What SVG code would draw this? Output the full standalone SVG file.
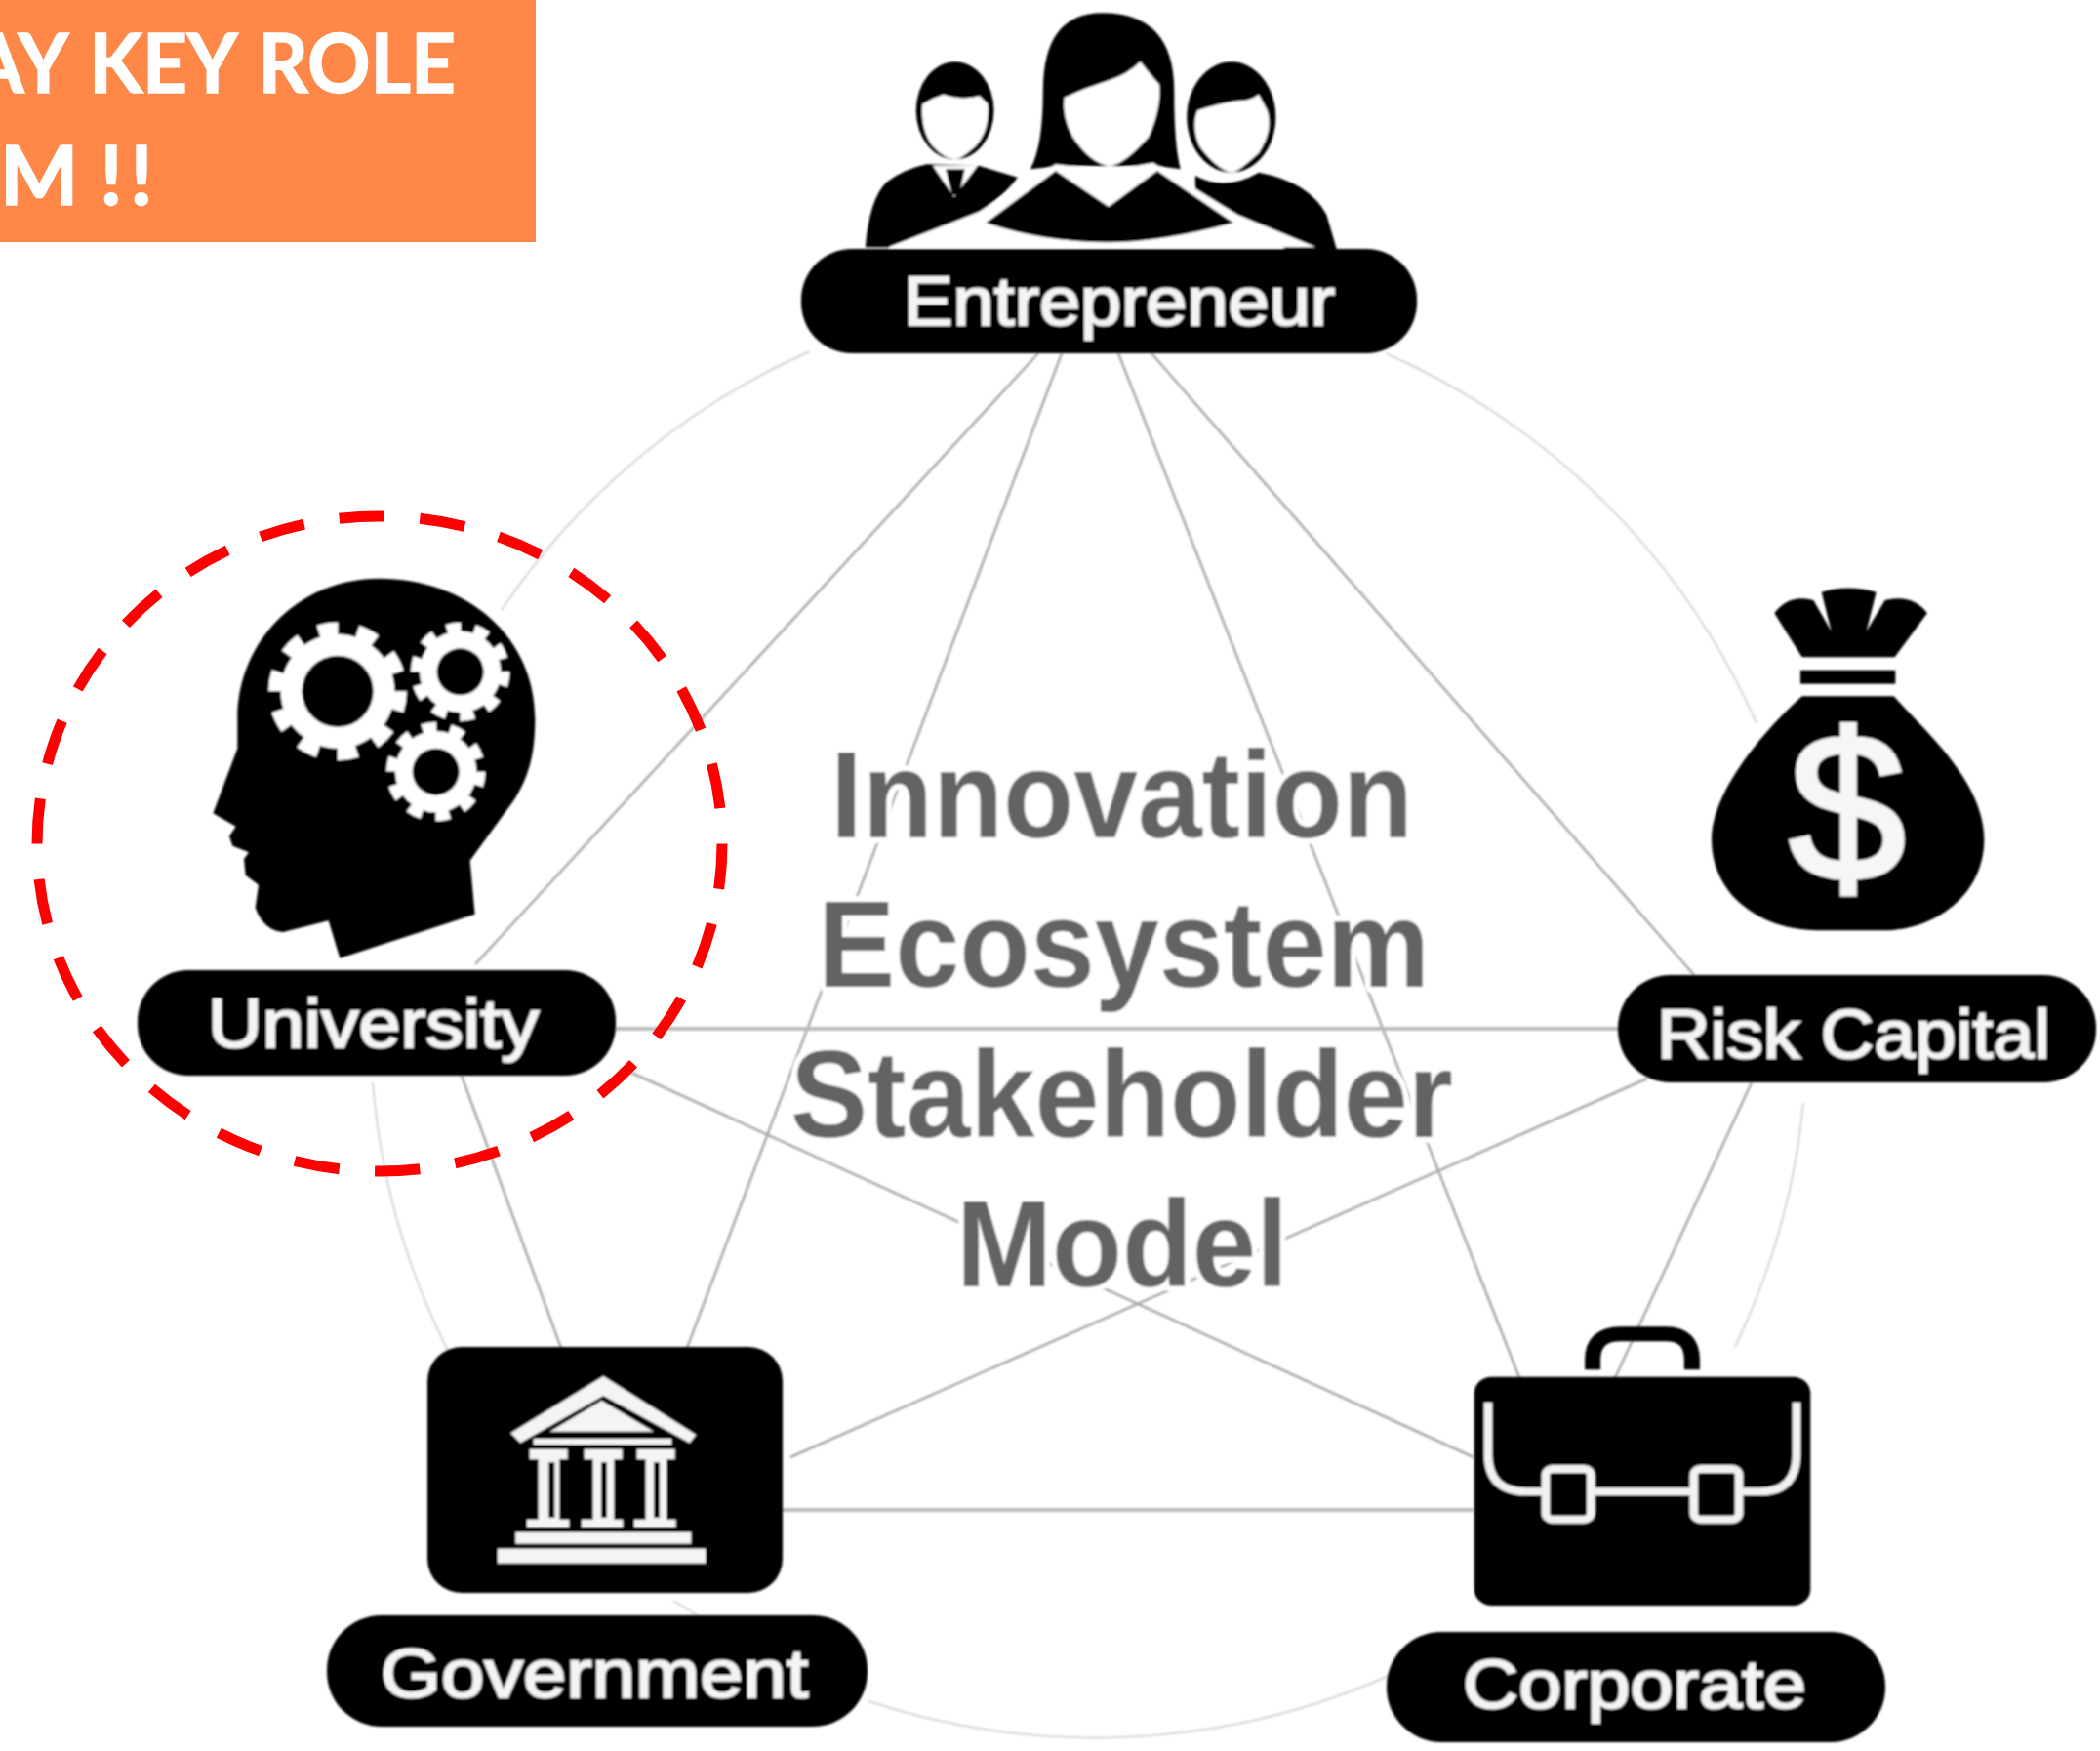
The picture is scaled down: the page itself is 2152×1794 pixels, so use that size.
<svg xmlns="http://www.w3.org/2000/svg" width="2152" height="1794" viewBox="0 0 2152 1794">
<style>
.line{fill:none;stroke:#a8a8a8;stroke-width:2.5}
.thick{fill:none;stroke:#bcbcbc;stroke-width:4}
.arc{fill:none;stroke:#d4d4d4;stroke-width:2}
.pill{fill:#000}
.label{font-family:"Liberation Sans",Arial,sans-serif;font-size:70px;fill:#f4f4f4;stroke:#f4f4f4;stroke-width:2}
.center{font-family:"Liberation Sans",Arial,sans-serif;font-weight:700;font-size:126px;fill:#636366;stroke:#fff;stroke-width:12;paint-order:stroke;stroke-linejoin:round}
.banner{font-family:Lato,"Liberation Sans",sans-serif;font-weight:700;font-size:85px;fill:#fff;stroke:#fff;stroke-width:1.5;word-spacing:5px}
.w{fill:#fff}.k{fill:#000}
.sw{fill:none;stroke:#f2f2f2}
</style>
<defs><filter id="soft" x="-5%" y="-5%" width="110%" height="110%"><feGaussianBlur stdDeviation="0.9"/></filter></defs>
<rect width="2152" height="1794" fill="#fff"/>
<g id="connectors" filter="url(#soft)">
<path class="arc" d="M830 360A741 741 0 0 0 514 625"/>
<path class="arc" d="M1420 362A741 741 0 0 1 1800 741"/>
<path class="arc" d="M1848 1130A741 741 0 0 1 1778 1380"/>
<path class="arc" d="M382 1109A741 741 0 0 0 460 1386"/>
<path class="arc" d="M690 1640L715 1655"/>
<path class="arc" d="M890 1743A741 741 0 0 0 1425 1716"/>
<path class="line" d="M1064 362L487 988"/>
<path class="line" d="M1088 362L703 1384"/>
<path class="line" d="M1146 362L1558 1414"/>
<path class="line" d="M1180 362L1736 999"/>
<path class="thick" d="M631 1054H1660"/>
<path class="line" d="M645 1098L1510 1493"/>
<path class="line" d="M1688 1105L810 1493"/>
<path class="line" d="M473 1102L576 1384"/>
<path class="line" d="M1795 1109L1654 1414"/>
<path class="thick" d="M800 1547H1510"/>
</g>
<g id="title" filter="url(#soft)">
<text class="center" x="851" y="858" textLength="597" lengthAdjust="spacingAndGlyphs">Innovation</text>
<text class="center" x="838" y="1011" textLength="627" lengthAdjust="spacingAndGlyphs">Ecosystem</text>
<text class="center" x="810" y="1165" textLength="679" lengthAdjust="spacingAndGlyphs">Stakeholder</text>
<text class="center" x="980" y="1318" textLength="340" lengthAdjust="spacingAndGlyphs">Model</text>
</g>
<g id="entrepreneur" filter="url(#soft)">
<g transform="translate(800 0) scale(.4336 .3333)">
<ellipse class="k" cx="412" cy="340" rx="92" ry="150"/>
<path class="w" d="M335 320Q360 300 385 290Q430 310 470 295L490 320Q495 400 460 450Q425 490 412 490Q390 490 360 450Q330 400 335 320Z"/>
<path class="k" d="M200 760Q210 610 250 560Q290 520 345 505L470 510L560 545Q530 600 460 660L255 760Z"/>
<path class="w" d="M360 510L410 605L465 510Z"/>
<path class="k" d="M390 520H435L422 600H405Z"/>
<ellipse class="k" cx="1065" cy="360" rx="105" ry="170"/>
<path class="w" d="M985 340Q1030 320 1080 310Q1110 310 1130 290L1150 340Q1165 400 1130 470Q1080 530 1065 530Q1030 520 990 450Q970 390 985 340Z"/>
<path class="k" d="M980 540Q1050 590 1130 530Q1250 560 1290 660L1315 770H1200L980 600Z"/>
<path class="k" d="M590 520Q620 450 620 280Q620 40 760 40Q930 40 930 280Q930 450 945 520L890 510H660Z"/>
<path class="w" d="M670 300Q720 270 770 250Q820 230 850 190Q880 240 895 260Q900 330 870 420Q810 510 775 510Q730 500 690 420Q665 360 670 300Z"/>
<path class="w" d="M255 760L470 650L650 505L720 515L775 525L880 500L1080 660L1265 760Z"/>
<path class="k" d="M485 685L650 525L775 635L890 525L1070 685Q900 745 775 745Q620 745 485 685Z"/>
</g>
<rect class="pill" x="821" y="255" width="631" height="107" rx="52"/>
<text class="label" x="926" y="333" textLength="442" lengthAdjust="spacingAndGlyphs">Entrepreneur</text>
</g>
<g id="university" filter="url(#soft)">
<g transform="translate(180 570) scale(.3333)">
<path class="k" d="M624 68C900 68 1105 250 1105 500C1105 610 1085 680 1040 750L905 935L920 1100L505 1235L470 1120L330 1155Q270 1150 245 1080L255 1010L215 980L210 930L225 910L175 890L165 860L185 830L115 790L190 590V500C190 260 380 68 624 68Z"/>
<circle cx="498" cy="415" r="185" fill="none" stroke="#fff" stroke-width="55" stroke-dasharray="58 58.2"/>
<circle class="w" cx="498" cy="415" r="175"/><circle class="k" cx="498" cy="415" r="110"/>
<circle cx="875" cy="355" r="133" fill="none" stroke="#fff" stroke-width="38" stroke-dasharray="42 41.6"/>
<circle class="w" cx="875" cy="355" r="125"/><circle class="k" cx="875" cy="355" r="72"/>
<circle cx="800" cy="662" r="133" fill="none" stroke="#fff" stroke-width="38" stroke-dasharray="42 41.6"/>
<circle class="w" cx="800" cy="662" r="125"/><circle class="k" cx="800" cy="662" r="72"/>
</g>
<rect class="pill" x="141" y="994" width="490" height="108" rx="52"/>
<text class="label" x="213" y="1073" textLength="339" lengthAdjust="spacingAndGlyphs">University</text>
</g>
<g id="risk-capital" filter="url(#soft)">
<g transform="translate(1730 580) scale(.3333)">
<path class="k" d="M350 280L265 145Q310 85 385 105L440 200L410 80Q490 55 578 80L548 200L605 105Q690 85 735 145L635 280Z"/>
<rect class="k" x="345" y="320" width="292" height="42"/>
<path class="k" d="M350 400H632C720 500 910 660 910 840C910 1010 760 1120 600 1120H400C220 1120 72 1010 72 840C72 680 260 480 350 400Z"/>
</g>
<text x="1893" y="902" text-anchor="middle" font-family="'Liberation Sans',Arial,sans-serif" font-size="216" fill="#f6f6f6" stroke="#f6f6f6" stroke-width="4">$</text>
<rect class="pill" x="1658" y="999" width="490" height="110" rx="54"/>
<text class="label" x="1698" y="1084" textLength="403" lengthAdjust="spacingAndGlyphs">Risk Capital</text>
</g>
<g id="government" filter="url(#soft)">
<rect class="pill" x="438" y="1380" width="364" height="252" rx="35"/>
<g transform="translate(320 1370) scale(.3333)" fill="#f4f4f4">
<path d="M610 295L895 120L1180 300L1160 325L895 180L640 325Z"/>
<path d="M730 290L890 195L1050 290Z"/>
<rect x="680" y="312" width="425" height="18"/>
<g id="columns">
<path fill-rule="evenodd" d="M668 345H785V375H760V560H790V585H660V560H695V375H668ZM727 385V555H745V385Z"/>
<path fill-rule="evenodd" d="M836 345H953V375H928V560H955V585H828V560H863V375H836ZM888 385V555H906V385Z"/>
<path fill-rule="evenodd" d="M998 345H1115V375H1090V560H1118V585H990V560H1025V375H998ZM1050 385V555H1068V385Z"/>
</g>
<rect x="625" y="600" width="540" height="35"/>
<rect x="570" y="650" width="640" height="45"/>
</g>
<rect class="pill" x="335" y="1655" width="554" height="114" rx="56"/>
<text class="label" x="390" y="1739" textLength="438" lengthAdjust="spacingAndGlyphs">Government</text>
</g>
<g id="corporate" filter="url(#soft)">
<g transform="translate(1400 1340) scale(.3571 .3333)">
<path d="M650 190V160Q650 80 730 80H860Q935 80 935 160V190" fill="none" stroke="#000" stroke-width="45"/>
<rect class="k" x="310" y="212" width="965" height="703" rx="50"/>
<path class="sw" stroke-width="24" d="M350 290V450Q350 565 460 565H1130Q1235 565 1235 450V290"/>
<rect class="k" x="515" y="495" width="130" height="155" rx="20" stroke="#f2f2f2" stroke-width="24"/>
<rect class="k" x="940" y="495" width="130" height="155" rx="20" stroke="#f2f2f2" stroke-width="24"/>
</g>
<rect class="pill" x="1421" y="1672" width="511" height="113" rx="56"/>
<text class="label" x="1499" y="1750" textLength="352" lengthAdjust="spacingAndGlyphs">Corporate</text>
</g>
<ellipse id="highlight" cx="389" cy="864.5" rx="351" ry="335.5" fill="none" stroke="#f00" stroke-width="11" pathLength="2600" stroke-dasharray="56 44"/>
<g id="banner">
<rect x="0" y="0" width="549" height="248" fill="#ff8849"/>
<text class="banner" transform="translate(467 95) scale(.94 1)" text-anchor="end">AY KEY ROLE</text>
<text class="banner" x="0 75 102 133" y="210">M !!</text>
</g>
</svg>
